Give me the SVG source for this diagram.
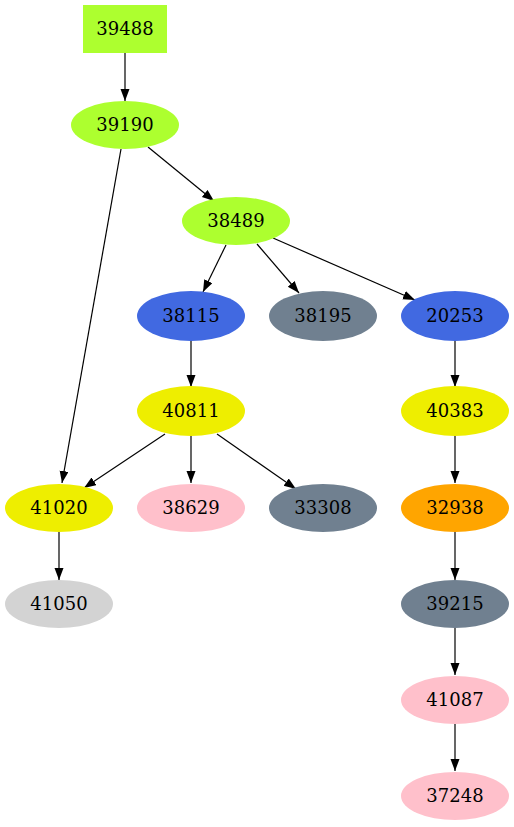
<svg xmlns="http://www.w3.org/2000/svg" width="514" height="827" viewBox="0 0 514 827">
<style>
text{font-family:"DejaVu Serif","Liberation Serif",serif;font-size:18px;text-anchor:middle;fill:#000}
.e{stroke:#000;stroke-width:1.2;fill:none;marker-end:url(#ah)}
</style>
<defs>
<marker id="ah" markerUnits="userSpaceOnUse" markerWidth="13" markerHeight="10" refX="12" refY="4.5" orient="auto">
<path d="M0,0 L12,4.5 L0,9 z" fill="#000"/>
</marker>
</defs>
<rect width="514" height="827" fill="#fff"/>
<g id="edges">
<line class="e" x1="125" y1="53" x2="125" y2="101"/>
<line class="e" x1="121" y1="149" x2="62" y2="483"/>
<line class="e" x1="148" y1="147" x2="214" y2="201"/>
<line class="e" x1="226" y1="245" x2="203" y2="292"/>
<line class="e" x1="257" y1="244" x2="299" y2="293"/>
<line class="e" x1="273" y1="238" x2="415" y2="300"/>
<line class="e" x1="191" y1="341" x2="191" y2="387"/>
<line class="e" x1="165" y1="434" x2="84" y2="488"/>
<line class="e" x1="191" y1="436" x2="191" y2="483"/>
<line class="e" x1="217" y1="434" x2="296" y2="489"/>
<line class="e" x1="455" y1="341" x2="455" y2="387"/>
<line class="e" x1="455" y1="436" x2="455" y2="483"/>
<line class="e" x1="455" y1="532" x2="455" y2="580"/>
<line class="e" x1="455" y1="628" x2="455" y2="675"/>
<line class="e" x1="455" y1="724" x2="455" y2="771"/>
<line class="e" x1="59" y1="532" x2="59" y2="580"/>
</g>
<g id="n39488"><rect x="83" y="5" width="84" height="48" fill="#adff2f"/><text x="125" y="35">39488</text></g>
<g id="n39190"><ellipse cx="125" cy="125" rx="54" ry="24" fill="#adff2f"/><text x="125" y="131">39190</text></g>
<g id="n38489"><ellipse cx="236" cy="221" rx="54" ry="24" fill="#adff2f"/><text x="236" y="227">38489</text></g>
<g id="n38115"><ellipse cx="191" cy="316" rx="54" ry="25" fill="#4169e1"/><text x="191" y="322">38115</text></g>
<g id="n38195"><ellipse cx="323" cy="316" rx="54" ry="25" fill="#708090"/><text x="323" y="322">38195</text></g>
<g id="n20253"><ellipse cx="455" cy="316" rx="54" ry="25" fill="#4169e1"/><text x="455" y="322">20253</text></g>
<g id="n40811"><ellipse cx="191" cy="411" rx="54" ry="25" fill="#eeee00"/><text x="191" y="417">40811</text></g>
<g id="n40383"><ellipse cx="455" cy="411" rx="54" ry="25" fill="#eeee00"/><text x="455" y="417">40383</text></g>
<g id="n41020"><ellipse cx="59" cy="508" rx="54" ry="24" fill="#eeee00"/><text x="59" y="514">41020</text></g>
<g id="n38629"><ellipse cx="191" cy="508" rx="54" ry="24" fill="#ffc0cb"/><text x="191" y="514">38629</text></g>
<g id="n33308"><ellipse cx="323" cy="508" rx="54" ry="24" fill="#708090"/><text x="323" y="514">33308</text></g>
<g id="n32938"><ellipse cx="455" cy="508" rx="54" ry="24" fill="#ffa500"/><text x="455" y="514">32938</text></g>
<g id="n41050"><ellipse cx="59" cy="604" rx="54" ry="24" fill="#d3d3d3"/><text x="59" y="610">41050</text></g>
<g id="n39215"><ellipse cx="455" cy="604" rx="54" ry="24" fill="#708090"/><text x="455" y="610">39215</text></g>
<g id="n41087"><ellipse cx="455" cy="700" rx="54" ry="24" fill="#ffc0cb"/><text x="455" y="706">41087</text></g>
<g id="n37248"><ellipse cx="455" cy="796" rx="54" ry="24" fill="#ffc0cb"/><text x="455" y="802">37248</text></g>
</svg>
